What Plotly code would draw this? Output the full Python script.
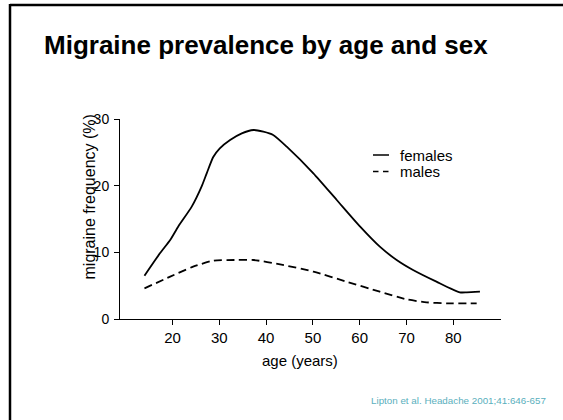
import plotly.graph_objects as go

# ---- data ----
female_age = [14, 17.3, 19.5, 21.2, 24.1, 26.2, 27.3, 28.7, 30.1, 32.3, 34.8, 37.3, 39.4,
              41.5, 44.4, 50.1, 55.1, 60.1, 64.3, 67.9, 71.4, 76.4, 81.4, 82.9, 85.7]
female_freq = [6.5, 9.85, 11.85, 13.85, 16.85, 19.85, 21.85, 24.3, 25.6, 26.85, 27.85, 28.35, 28.1,
               27.6, 25.85, 21.85, 17.85, 13.85, 10.85, 8.85, 7.35, 5.6, 4.0, 4.0, 4.1]
male_age = [14, 19.5, 24.4, 28.7, 33.7, 37.3, 43.0, 50.1, 57.2, 64.3, 70.0, 74.3, 78.6, 85]
male_freq = [4.6, 6.35, 7.85, 8.75, 8.85, 8.85, 8.2, 7.1, 5.6, 4.1, 2.95, 2.5, 2.35, 2.35]

x_ticks = [20, 30, 40, 50, 60, 70, 80]
y_ticks = [0, 10, 20, 30]
series_names = ["females", "males"]

title_text = "Migraine prevalence by age and sex"
x_title = "age (years)"
y_title = "migraine frequency (%)"
citation = "Lipton et al. Headache 2001;41:646-657"

# ---- layout geometry ----
W, H = 563, 420
L, R, T, B = 120, 62, 119, 101
PW, PH = W - L - R, H - T - B
FONT = "Liberation Sans, Arial, sans-serif"


def px(x):
    return (x - L) / PW


def py(y):
    return (H - B - y) / PH


fig = go.Figure()
fig.add_trace(go.Scatter(x=female_age, y=female_freq, mode="lines", name=series_names[0],
                         line=dict(color="black", width=1.8, shape="spline", smoothing=0.6),
                         showlegend=False))
fig.add_trace(go.Scatter(x=male_age, y=male_freq, mode="lines", name=series_names[1],
                         line=dict(color="black", width=1.8, dash="8px,4.5px", shape="spline", smoothing=0.6),
                         showlegend=False))

shapes = [
    # slide border (top and left)
    dict(type="line", xref="paper", yref="paper", x0=px(10), x1=px(W), y0=py(5), y1=py(5),
         line=dict(color="black", width=2.5)),
    dict(type="line", xref="paper", yref="paper", x0=px(10), x1=px(10), y0=py(4), y1=py(H),
         line=dict(color="black", width=2.5)),
    # legend samples
    dict(type="line", xref="paper", yref="paper", x0=px(373), x1=px(389), y0=py(155), y1=py(155),
         line=dict(color="black", width=1.5)),
    dict(type="line", xref="paper", yref="paper", x0=px(373), x1=px(389), y0=py(171.5), y1=py(171.5),
         line=dict(color="black", width=1.5, dash="5.5px,4.5px")),
]

annotations = [
    dict(text="<b>" + title_text + "</b>", xref="paper", yref="paper", x=px(266), y=py(45),
         xanchor="center", yanchor="middle", showarrow=False,
         font=dict(family=FONT, size=26, color="black")),
    dict(text=x_title, xref="paper", yref="paper", x=px(300), y=py(360.5), xanchor="center",
         yanchor="middle", showarrow=False, font=dict(family=FONT, size=15, color="black")),
    dict(text=y_title, xref="paper", yref="paper", x=px(89), y=py(197.5), xanchor="center",
         yanchor="middle", textangle=-90, showarrow=False, font=dict(family=FONT, size=16, color="black")),
    dict(text=series_names[0], xref="paper", yref="paper", x=px(398), y=py(155), xanchor="left",
         yanchor="middle", showarrow=False, font=dict(family=FONT, size=15, color="black")),
    dict(text=series_names[1], xref="paper", yref="paper", x=px(398), y=py(171), xanchor="left",
         yanchor="middle", showarrow=False, font=dict(family=FONT, size=15, color="black")),
    dict(text=citation, xref="paper", yref="paper", x=px(548), y=py(400), xanchor="right",
         yanchor="middle", showarrow=False, font=dict(family=FONT, size=9.8, color="#5aafbd")),
]

fig.update_layout(
    width=W, height=H,
    margin=dict(l=L, r=R, t=T, b=B, pad=0),
    paper_bgcolor="white", plot_bgcolor="white",
    font=dict(family=FONT, color="black"),
    shapes=shapes, annotations=annotations,
    showlegend=False,
)
fig.update_xaxes(range=[8.77, 90.2], tickmode="array", tickvals=x_ticks,
                 showgrid=False, zeroline=False, showline=True, linecolor="black", linewidth=1,
                 ticks="outside", ticklen=5, tickcolor="black", tickwidth=1,
                 tickfont=dict(family=FONT, size=15, color="black"))
fig.update_yaxes(range=[0, 30], tickmode="array", tickvals=y_ticks,
                 showgrid=False, zeroline=False, showline=True, linecolor="black", linewidth=1,
                 ticks="outside", ticklen=5, tickcolor="black", tickwidth=1, ticklabelstandoff=2,
                 tickfont=dict(family=FONT, size=14, color="black"))

fig.write_html("out.html", config={"displayModeBar": False, "staticPlot": True},
               post_script="document.body.style.margin='0';document.body.style.overflow='hidden';"
                           "document.documentElement.style.overflow='hidden';")
